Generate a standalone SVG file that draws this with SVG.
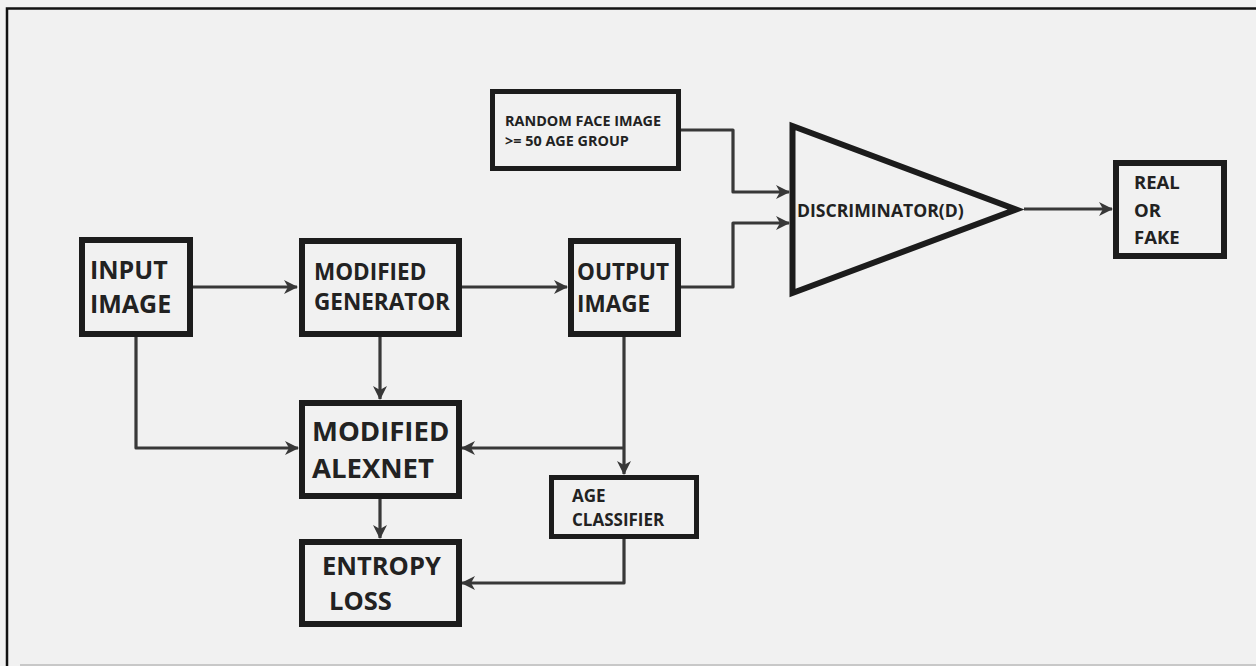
<svg xmlns="http://www.w3.org/2000/svg" width="1256" height="666" viewBox="0 0 1256 666">
<style>
.bg{fill:#f1f1f1}
.box{fill:#f1f1f1;stroke:#1c1c1c;stroke-width:6}
.sbox{fill:#f1f1f1;stroke:#1c1c1c;stroke-width:5}
.t{font-family:"Open Sans","Noto Sans","Liberation Sans",sans-serif;font-weight:bold;fill:#222}
.c{fill:none;stroke:#383838;stroke-width:3.2;stroke-linejoin:round;stroke-linecap:butt}
</style>
<defs>
<marker id="ah" markerWidth="16" markerHeight="16" refX="14" refY="8" orient="auto" markerUnits="userSpaceOnUse">
<path d="M1,1 L15,8 L1,15 L5,8 z" fill="#383838"/>
</marker>
</defs>
<rect class="bg" x="0" y="0" width="1256" height="666"/>
<path d="M7,666 L7,8.5 L1256,8.5" fill="none" stroke="#111" stroke-width="2.5"/>
<line x1="20" y1="665" x2="1256" y2="665" stroke="#c8c8c8" stroke-width="2"/>

<g id="connectors">
<path class="c" d="M193,287 L297,287" marker-end="url(#ah)"/>
<path class="c" d="M462,287 L567,287" marker-end="url(#ah)"/>
<path class="c" d="M681,287 L733,287 L733,223 L789,223" marker-end="url(#ah)"/>
<path class="c" d="M681,130 L733,130 L733,192 L789,192" marker-end="url(#ah)"/>
<path class="c" d="M1024,209 L1112,209" marker-end="url(#ah)"/>
<path class="c" d="M136,337 L136,448 L298,448" marker-end="url(#ah)"/>
<path class="c" d="M380,337 L380,399" marker-end="url(#ah)"/>
<path class="c" d="M380,499 L380,538" marker-end="url(#ah)"/>
<path class="c" d="M624,337 L624,474" marker-end="url(#ah)"/>
<path class="c" d="M624,448 L462,448" marker-end="url(#ah)"/>
<path class="c" d="M624,539 L624,583 L462,583" marker-end="url(#ah)"/>
</g>

<g id="input-image">
<rect class="box" x="82" y="240" width="108" height="94"/>
<text class="t" x="90" y="279" font-size="25">INPUT</text>
<text class="t" x="90" y="313" font-size="25">IMAGE</text>
</g>

<g id="modified-generator">
<rect class="box" x="302" y="241" width="157" height="93"/>
<text class="t" x="314" y="280" font-size="22.5">MODIFIED</text>
<text class="t" x="314" y="310" font-size="22.5">GENERATOR</text>
</g>

<g id="output-image">
<rect class="box" x="571" y="241" width="107" height="93"/>
<text class="t" x="577" y="280" font-size="22.5">OUTPUT</text>
<text class="t" x="577" y="312" font-size="22.5">IMAGE</text>
</g>

<g id="random-face">
<rect class="sbox" x="492.5" y="91.5" width="186" height="77"/>
<text class="t" x="505" y="126" font-size="14.4">RANDOM FACE IMAGE</text>
<text class="t" x="505" y="146" font-size="14.4">&gt;= 50 AGE GROUP</text>
</g>

<g id="discriminator">
<path class="box" d="M792.5,126 L1016,209.5 L792.5,293 Z"/>
<text class="t" x="797" y="217" font-size="17.6">DISCRIMINATOR(D)</text>
</g>

<g id="real-or-fake">
<rect class="box" x="1116" y="163" width="108" height="93"/>
<text class="t" x="1134" y="189" font-size="18.5">REAL</text>
<text class="t" x="1134" y="217" font-size="18.5">OR</text>
<text class="t" x="1134" y="244" font-size="18.5">FAKE</text>
</g>

<g id="modified-alexnet">
<rect class="box" x="302" y="403" width="157" height="93"/>
<text class="t" x="312" y="441" font-size="27.5">MODIFIED</text>
<text class="t" x="312" y="478" font-size="27.5">ALEXNET</text>
</g>

<g id="entropy-loss">
<rect class="box" x="302" y="542" width="157" height="82"/>
<text class="t" x="322" y="575" font-size="25.5">ENTROPY</text>
<text class="t" x="329" y="610" font-size="25.5">LOSS</text>
</g>

<g id="age-classifier">
<rect class="sbox" x="551.5" y="477.5" width="145" height="59"/>
<text class="t" x="572" y="502" font-size="17">AGE</text>
<text class="t" x="572" y="526" font-size="17">CLASSIFIER</text>
</g>
</svg>
